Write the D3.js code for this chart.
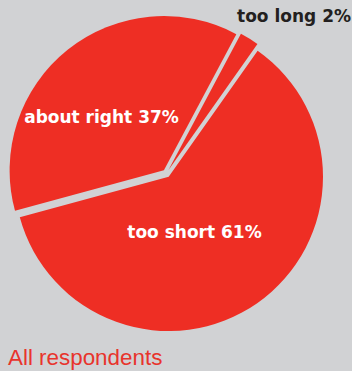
<!DOCTYPE html>
<html>
<head>
<meta charset="utf-8">
<script src="https://cdn.jsdelivr.net/npm/d3@7"></script>
<style>
  html, body { margin: 0; padding: 0; background: #d1d2d4; }
  svg { display: block; }
</style>
</head>
<body>
<svg id="chart" width="352" height="371"></svg>
<script>
// Survey answers, clockwise from the "too long" wedge
const categories = ["too long", "too short", "about right"];
const shares = [2, 61, 37];
const caption = "All respondents";

const W = 352, H = 371;
const cx = 166.4, cy = 173.5, R = 154.3;
const explode = 4;               // every wedge pulled out from the centre
const startDeg = 28;             // where the first wedge begins, clockwise from 12 o'clock

const bg = "#d1d2d4", red = "#ee2e24";

// label placement and colour per category (anchor x, baseline y)
const labelStyle = {
  "too long":    { x: 351,   y: 21.5, anchor: "end",    fill: "#231f20" },
  "too short":   { x: 194.5, y: 238,  anchor: "middle", fill: "#ffffff" },
  "about right": { x: 101.5, y: 123,  anchor: "middle", fill: "#ffffff" }
};

const svg = d3.select("#chart");
svg.append("rect").attr("width", W).attr("height", H).attr("fill", bg);

const data = categories.map((c, i) => ({ cat: c, value: shares[i] }));
const a0 = startDeg * Math.PI / 180;
const pie = d3.pie().sort(null).value(d => d.value)
  .startAngle(a0).endAngle(a0 + 2 * Math.PI);
const arc = d3.arc().innerRadius(0).outerRadius(R);

const g = svg.append("g").attr("transform", `translate(${cx},${cy})`);
g.selectAll("path.slice")
  .data(pie(data))
  .join("path")
  .attr("class", "slice")
  .attr("fill", red)
  .attr("transform", d => {
    const m = (d.startAngle + d.endAngle) / 2;
    return `translate(${explode * Math.sin(m)},${-explode * Math.cos(m)})`;
  })
  .attr("d", arc);

// wedge labels
svg.selectAll("text.lbl")
  .data(data)
  .join("text")
  .attr("class", "lbl")
  .attr("x", d => labelStyle[d.cat].x)
  .attr("y", d => labelStyle[d.cat].y)
  .attr("text-anchor", d => labelStyle[d.cat].anchor)
  .attr("fill", d => labelStyle[d.cat].fill)
  .style("font-family", "'DejaVu Sans', sans-serif")
  .style("font-weight", "bold")
  .style("font-size", "17px")
  .text(d => `${d.cat} ${d.value}%`);

svg.append("text")
  .attr("x", 8)
  .attr("y", 364.5)
  .attr("fill", "#e8342c")
  .style("font-family", "'Liberation Sans', Arial, sans-serif")
  .style("font-size", "22.4px")
  .text(caption);
</script>
</body>
</html>
